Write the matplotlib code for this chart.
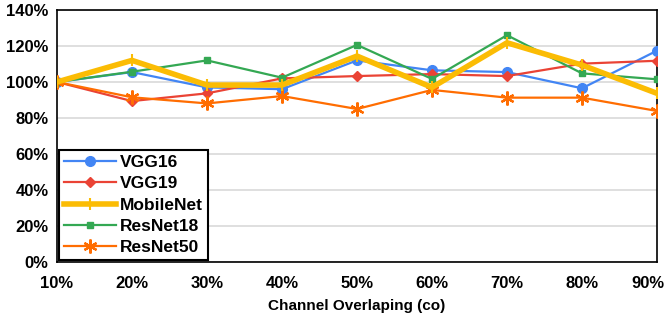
import matplotlib
matplotlib.use("Agg")
import matplotlib.pyplot as plt
from matplotlib.ticker import FuncFormatter
from matplotlib.transforms import ScaledTranslation

plt.rcParams['font.family'] = ['Liberation Sans', 'DejaVu Sans']
plt.rcParams['font.weight'] = 'bold'

categories = ["10%", "20%", "30%", "40%", "50%", "60%", "70%", "80%", "90%"]
vgg16 = [100, 105.5, 97, 96, 112, 106.5, 105.5, 96.5, 117.4]
vgg19 = [100, 89.4, 93.7, 102, 103.3, 104.4, 103.3, 110.2, 111.8]
mobilenet = [100, 112, 98.3, 98.3, 114.4, 97, 121.8, 109.4, 93.7]
resnet18 = [100, 105.7, 112, 102.4, 120.6, 101.7, 126, 104.8, 101.5]
resnet50 = [100, 91.5, 88.1, 92.2, 85, 95.6, 91.3, 91.3, 83.9]
yticks = [0, 20, 40, 60, 80, 100, 120, 140]

fig = plt.figure(figsize=(6.64, 3.24), dpi=100)
ax = fig.add_axes([57/664, 1-262/324, 600/664, 252/324])

x = list(range(len(categories)))
ax.plot(x, vgg16, color='#4285F4', marker='o', markersize=7, lw=1.6, label='VGG16', zorder=3)
ax.plot(x, vgg19, color='#EA4335', marker='D', markersize=5, lw=1.6, label='VGG19', zorder=3)
ax.plot(x, mobilenet, color='#FBBC04', marker='|', markersize=9, mew=1.5, lw=4, label='MobileNet', zorder=4)
ax.plot(x, resnet18, color='#34A853', marker='s', markersize=5, lw=1.6, label='ResNet18', zorder=3)
ax.plot(x, resnet50, color='#FF6D01', marker=(6, 2, 0), markersize=10, mew=1.6, lw=1.6, label='ResNet50', zorder=3)

ax.set_xlim(0, len(categories)-1)
ax.set_ylim(0, 140)
ax.set_yticks(yticks)
ax.yaxis.set_major_formatter(FuncFormatter(lambda v, p: f"{int(v)}%"))
ax.set_xticks(x)
ax.set_xticklabels(categories)
ax.tick_params(axis='both', length=0, labelsize=12)
ax.tick_params(axis='x', pad=10)
ax.tick_params(axis='y', pad=6)
ax.grid(axis='y', color='#d9d9d9', lw=1.2)
ax.set_axisbelow(True)
for s in ax.spines.values():
    s.set_color('black')
    s.set_linewidth(1.2)
for lbl in ax.get_xticklabels() + ax.get_yticklabels():
    lbl.set_fontweight('bold')
last = ax.get_xticklabels()[-1]
last.set_transform(last.get_transform() + ScaledTranslation(-9/100, 0, fig.dpi_scale_trans))

ax.set_xlabel('Channel Overlaping (co)', fontsize=11, fontweight='bold', labelpad=6)

leg = ax.legend(loc='lower left', bbox_to_anchor=(0.0, 0.0), fontsize=12.5, frameon=True,
                fancybox=False, edgecolor='black', framealpha=1, handlelength=3.0,
                borderpad=0.3, labelspacing=0.35, handletextpad=0.2, borderaxespad=0.1)
leg.get_frame().set_linewidth(1.5)
for t in leg.get_texts():
    t.set_fontweight('bold')

fig.savefig('out.png', dpi=100)
